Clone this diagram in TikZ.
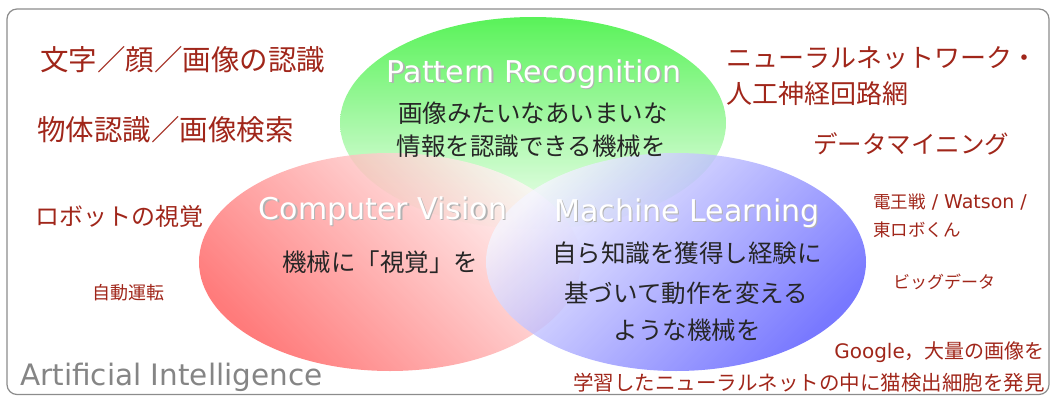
\documentclass[tikz,border=0pt]{standalone}
\usepackage{fontspec}
\setmainfont{Noto Sans CJK JP}
\newfontfamily\lat{DejaVu Sans}
\usepackage{xcolor}
\usepackage{tikz}
\usetikzlibrary{positioning}
\definecolor{kwred}{HTML}{A0261A}
\definecolor{aigray}{HTML}{858585}
\definecolor{prgreen}{HTML}{3CF03C}
\definecolor{cvred}{HTML}{FF5A5A}
\definecolor{mlblue}{HTML}{5656FF}
\def\fs#1{\fontsize{#1}{#1}\selectfont}
\def\shd#1{\makebox[0pt][l]{\hspace{1.3pt}\raisebox{-1.3pt}{\color{black!30}#1}}#1}

\begin{document}
\begin{tikzpicture}[x=1pt,y=-1pt,
  kw/.style={text=kwred,inner sep=0pt,anchor=west},
  body/.style={text=black!85,inner sep=0pt},
  title/.style={text=white,inner sep=0pt,anchor=base,font=\lat\fs{30}}]
\useasboundingbox (0,0) rectangle (1052,396);
\draw[black!45,line width=1.2pt,rounded corners=10pt] (7,9) rectangle (1049,394.5);
% the three fields
\shade[top color=prgreen,bottom color=prgreen!6,fill opacity=0.85] (533,123) ellipse [x radius=193pt,y radius=106pt];
\shade[top color=cvred!6,bottom color=cvred,shading angle=-45,fill opacity=0.8] (390,262) ellipse [x radius=191pt,y radius=109pt];
\shade[top color=mlblue!6,bottom color=mlblue,shading angle=45,fill opacity=0.8] (676,262) ellipse [x radius=190pt,y radius=109pt];
% field names
\node[title] (pr) at (534,82) {\shd{Pattern Recognition}};
\node[title] (cv) at (383,219) {\shd{Computer Vision}};
\node[title] (ml) at (687,221) {\shd{Machine Learning}};
\node[title,text=aigray,anchor=base west,font=\lat\fs{29.5}] (ai) at (20,385) {Artificial Intelligence};
% descriptions
\node[body,font=\fs{24.5}] (pr1) at (533,113) {画像みたいなあいまいな};
\node[body,font=\fs{24.5}] (pr2) at (531,146) {情報を認識できる機械を};
\node[body,font=\fs{24.5}] (cv1) at (380,262) {機械に「視覚」を};
\node[body,font=\fs{24.5}] (ml1) at (687,253) {自ら知識を獲得し経験に};
\node[body,font=\fs{24.5}] (ml2) at (686,293) {基づいて動作を変える};
\node[body,font=\fs{24.5}] (ml3) at (687,330) {ような機械を};
% examples
\node[kw,font=\fs{28.5}] (ex1) at (40,60) {文字／顔／画像の認識};
\node[kw,font=\fs{28.5}] (ex2) at (37,130) {物体認識／画像検索};
\node[kw,font=\fs{24}] (ex3) at (35,216) {ロボットの視覚};
\node[kw,font=\fs{18}] (ex4) at (92,293) {自動運転};
\node[kw,font=\fs{26}] (ex5) at (726,58) {ニューラルネットワーク・};
\node[kw,font=\fs{26}] (ex6) at (726,94) {人工神経回路網};
\node[kw,font=\fs{24.5}] (ex7) at (813,144) {データマイニング};
\node[kw,font=\fs{17.5}] (ex8) at (873,202) {電王戦{\lat\fs{19} / Watson /}};
\node[kw,font=\fs{17.5}] (ex9) at (873,230) {東ロボくん};
\node[kw,font=\fs{17}] (ex10) at (893,282) {ビッグデータ};
\node[kw,anchor=east,font=\fs{20}] (ex11) at (1045,352) {{\lat Google}，大量の画像を};
\node[kw,anchor=east,font=\fs{20.5}] (ex12) at (1045,383) {学習したニューラルネットの中に猫検出細胞を発見};
\end{tikzpicture}
\end{document}
